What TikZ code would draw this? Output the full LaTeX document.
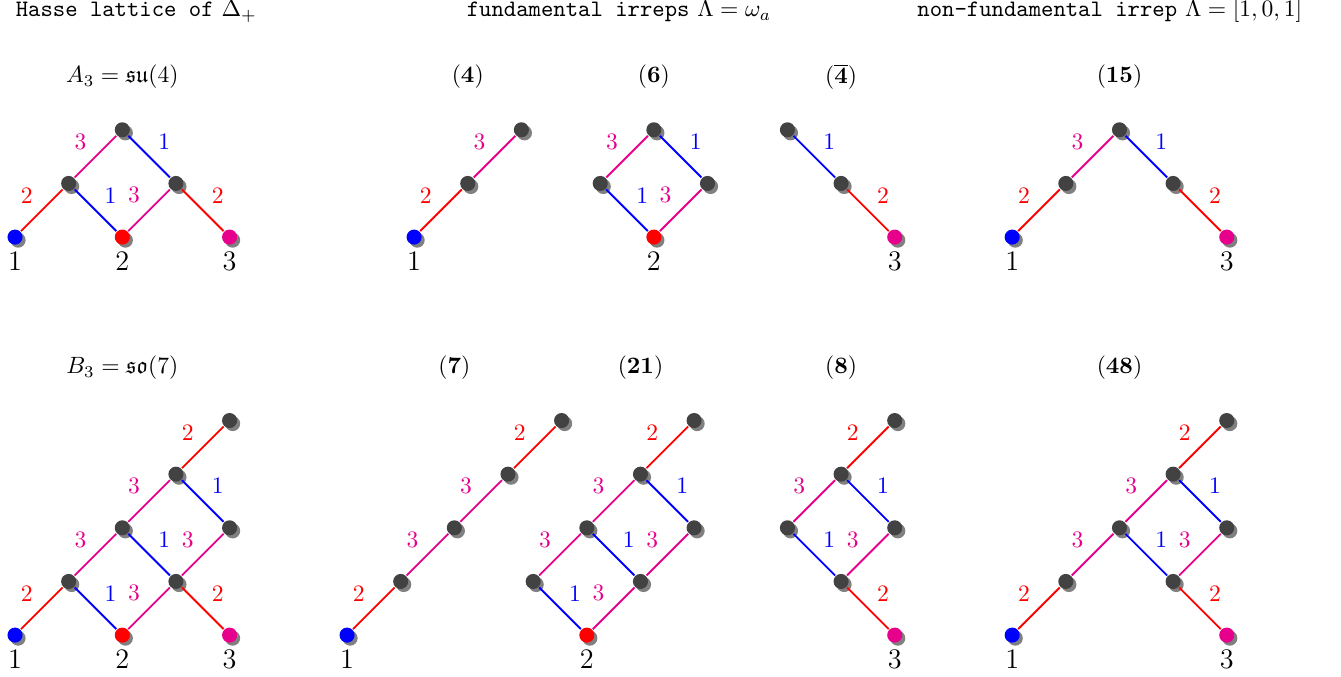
\documentclass[tikz,border=0pt]{standalone}
\usepackage{amsmath,amssymb}
\usetikzlibrary{shadows}
\definecolor{hot}{RGB}{230,0,140}

\begin{document}
\begin{tikzpicture}[x=0.8cm,y=0.8cm,thick,
  vtx/.style={circle,minimum size=6.4pt,inner sep=0pt,fill=black!74,
    drop shadow={shadow xshift=1.3pt,shadow yshift=-1.3pt,fill=black!50,opacity=1}},
  lu/.style={midway,xshift=-2.25mm,yshift=2.25mm},
  ru/.style={midway,xshift=2.25mm,yshift=2.25mm},
  lab/.style={font=\large,label distance=-1pt}]
  \useasboundingbox (0,0) rectangle (25,12.62);
  \node[anchor=base west] (t1) at (0.13,12.31) {\texttt{Hasse lattice of} $\Delta_+$};
  \node[anchor=base] (t2) at (11.54,12.31) {\texttt{fundamental irreps} $\Lambda=\omega_a$};
  \node[anchor=base] (t3) at (20.69,12.31) {\texttt{non-fundamental irrep} $\Lambda=[1,0,1]$};
  % A3
  \node (sA) at (2.28,11.19) {$A_3=\mathfrak{su}(4)$};
  \node[vtx,fill=blue,label={[lab]below:1}] (A1) at (0.28,8.2) {};
  \node[vtx,fill=red,label={[lab]below:2}] (A2) at (2.28,8.2) {};
  \node[vtx,fill=hot,label={[lab]below:3}] (A3) at (4.28,8.2) {};
  \node[vtx] (A4) at (1.28,9.2) {};
  \node[vtx] (A5) at (3.28,9.2) {};
  \node[vtx] (A6) at (2.28,10.2) {};
  \draw[red] (A1) -- node[lu] {2} (A4);
  \draw[blue] (A2) -- node[ru] {1} (A4);
  \draw[hot] (A2) -- node[lu] {3} (A5);
  \draw[red] (A3) -- node[ru] {2} (A5);
  \draw[hot] (A4) -- node[lu] {3} (A6);
  \draw[blue] (A5) -- node[ru] {1} (A6);
  % (4)
  \node (sF) at (8.72,11.19) {$(\mathbf{4})$};
  \node[vtx,fill=blue,label={[lab]below:1}] (F1) at (7.72,8.2) {};
  \node[vtx] (F2) at (8.72,9.2) {};
  \node[vtx] (F3) at (9.72,10.2) {};
  \draw[red] (F1) -- node[lu] {2} (F2);
  \draw[hot] (F2) -- node[lu] {3} (F3);
  % (6)
  \node (sS) at (12.19,11.19) {$(\mathbf{6})$};
  \node[vtx,fill=red,label={[lab]below:2}] (S1) at (12.19,8.2) {};
  \node[vtx] (S2) at (11.19,9.2) {};
  \node[vtx] (S3) at (13.19,9.2) {};
  \node[vtx] (S4) at (12.19,10.2) {};
  \draw[blue] (S1) -- node[ru] {1} (S2);
  \draw[hot] (S1) -- node[lu] {3} (S3);
  \draw[hot] (S2) -- node[lu] {3} (S4);
  \draw[blue] (S3) -- node[ru] {1} (S4);
  % (4bar)
  \node (sC) at (15.68,11.19) {$(\overline{\mathbf{4}})$};
  \node[vtx,fill=hot,label={[lab]below:3}] (C1) at (16.68,8.2) {};
  \node[vtx] (C2) at (15.68,9.2) {};
  \node[vtx] (C3) at (14.68,10.2) {};
  \draw[red] (C1) -- node[ru] {2} (C2);
  \draw[blue] (C2) -- node[ru] {1} (C3);
  % (15)
  \node (sD) at (20.87,11.19) {$(\mathbf{15})$};
  \node[vtx,fill=blue,label={[lab]below:1}] (D1) at (18.87,8.2) {};
  \node[vtx,fill=hot,label={[lab]below:3}] (D2) at (22.87,8.2) {};
  \node[vtx] (D3) at (19.87,9.2) {};
  \node[vtx] (D4) at (21.87,9.2) {};
  \node[vtx] (D5) at (20.87,10.2) {};
  \draw[red] (D1) -- node[lu] {2} (D3);
  \draw[hot] (D3) -- node[lu] {3} (D5);
  \draw[red] (D2) -- node[ru] {2} (D4);
  \draw[blue] (D4) -- node[ru] {1} (D5);
  % B3
  \node (sB) at (2.28,5.76) {$B_3=\mathfrak{so}(7)$};
  \node[vtx,fill=blue,label={[lab]below:1}] (B1) at (0.28,0.78) {};
  \node[vtx,fill=red,label={[lab]below:2}] (B2) at (2.28,0.78) {};
  \node[vtx,fill=hot,label={[lab]below:3}] (B3) at (4.28,0.78) {};
  \node[vtx] (B4) at (1.28,1.78) {};
  \node[vtx] (B5) at (3.28,1.78) {};
  \node[vtx] (B6) at (2.28,2.78) {};
  \node[vtx] (B7) at (4.28,2.78) {};
  \node[vtx] (B8) at (3.28,3.78) {};
  \node[vtx] (B9) at (4.28,4.78) {};
  \draw[red] (B1) -- node[lu] {2} (B4);
  \draw[blue] (B2) -- node[ru] {1} (B4);
  \draw[hot] (B2) -- node[lu] {3} (B5);
  \draw[red] (B3) -- node[ru] {2} (B5);
  \draw[hot] (B4) -- node[lu] {3} (B6);
  \draw[blue] (B5) -- node[ru] {1} (B6);
  \draw[hot] (B5) -- node[lu] {3} (B7);
  \draw[hot] (B6) -- node[lu] {3} (B8);
  \draw[blue] (B7) -- node[ru] {1} (B8);
  \draw[red] (B8) -- node[lu] {2} (B9);
  % (7)
  \node (sG) at (8.47,5.76) {$(\mathbf{7})$};
  \node[vtx,fill=blue,label={[lab]below:1}] (G1) at (6.47,0.78) {};
  \node[vtx] (G2) at (7.47,1.78) {};
  \node[vtx] (G3) at (8.47,2.78) {};
  \node[vtx] (G4) at (9.47,3.78) {};
  \node[vtx] (G5) at (10.47,4.78) {};
  \draw[red] (G1) -- node[lu] {2} (G2);
  \draw[hot] (G2) -- node[lu] {3} (G3);
  \draw[hot] (G3) -- node[lu] {3} (G4);
  \draw[red] (G4) -- node[lu] {2} (G5);
  % (21)
  \node (sT) at (11.94,5.76) {$(\mathbf{21})$};
  \node[vtx,fill=red,label={[lab]below:2}] (T1) at (10.94,0.78) {};
  \node[vtx] (T2) at (9.94,1.78) {};
  \node[vtx] (T3) at (11.94,1.78) {};
  \node[vtx] (T4) at (10.94,2.78) {};
  \node[vtx] (T5) at (12.94,2.78) {};
  \node[vtx] (T6) at (11.94,3.78) {};
  \node[vtx] (T7) at (12.94,4.78) {};
  \draw[blue] (T1) -- node[ru] {1} (T2);
  \draw[hot] (T1) -- node[lu] {3} (T3);
  \draw[hot] (T2) -- node[lu] {3} (T4);
  \draw[blue] (T3) -- node[ru] {1} (T4);
  \draw[hot] (T3) -- node[lu] {3} (T5);
  \draw[hot] (T4) -- node[lu] {3} (T6);
  \draw[blue] (T5) -- node[ru] {1} (T6);
  \draw[red] (T6) -- node[lu] {2} (T7);
  % (8)
  \node (sE) at (15.68,5.76) {$(\mathbf{8})$};
  \node[vtx,fill=hot,label={[lab]below:3}] (E1) at (16.68,0.78) {};
  \node[vtx] (E2) at (15.68,1.78) {};
  \node[vtx] (E3) at (14.68,2.78) {};
  \node[vtx] (E4) at (16.68,2.78) {};
  \node[vtx] (E5) at (15.68,3.78) {};
  \node[vtx] (E6) at (16.68,4.78) {};
  \draw[red] (E1) -- node[ru] {2} (E2);
  \draw[blue] (E2) -- node[ru] {1} (E3);
  \draw[hot] (E2) -- node[lu] {3} (E4);
  \draw[hot] (E3) -- node[lu] {3} (E5);
  \draw[blue] (E4) -- node[ru] {1} (E5);
  \draw[red] (E5) -- node[lu] {2} (E6);
  % (48)
  \node (sH) at (20.87,5.76) {$(\mathbf{48})$};
  \node[vtx,fill=blue,label={[lab]below:1}] (H1) at (18.87,0.78) {};
  \node[vtx,fill=hot,label={[lab]below:3}] (H2) at (22.87,0.78) {};
  \node[vtx] (H3) at (19.87,1.78) {};
  \node[vtx] (H4) at (21.87,1.78) {};
  \node[vtx] (H5) at (20.87,2.78) {};
  \node[vtx] (H6) at (22.87,2.78) {};
  \node[vtx] (H7) at (21.87,3.78) {};
  \node[vtx] (H8) at (22.87,4.78) {};
  \draw[red] (H1) -- node[lu] {2} (H3);
  \draw[hot] (H3) -- node[lu] {3} (H5);
  \draw[red] (H2) -- node[ru] {2} (H4);
  \draw[blue] (H4) -- node[ru] {1} (H5);
  \draw[hot] (H4) -- node[lu] {3} (H6);
  \draw[hot] (H5) -- node[lu] {3} (H7);
  \draw[blue] (H6) -- node[ru] {1} (H7);
  \draw[red] (H7) -- node[lu] {2} (H8);
\end{tikzpicture}
\end{document}
